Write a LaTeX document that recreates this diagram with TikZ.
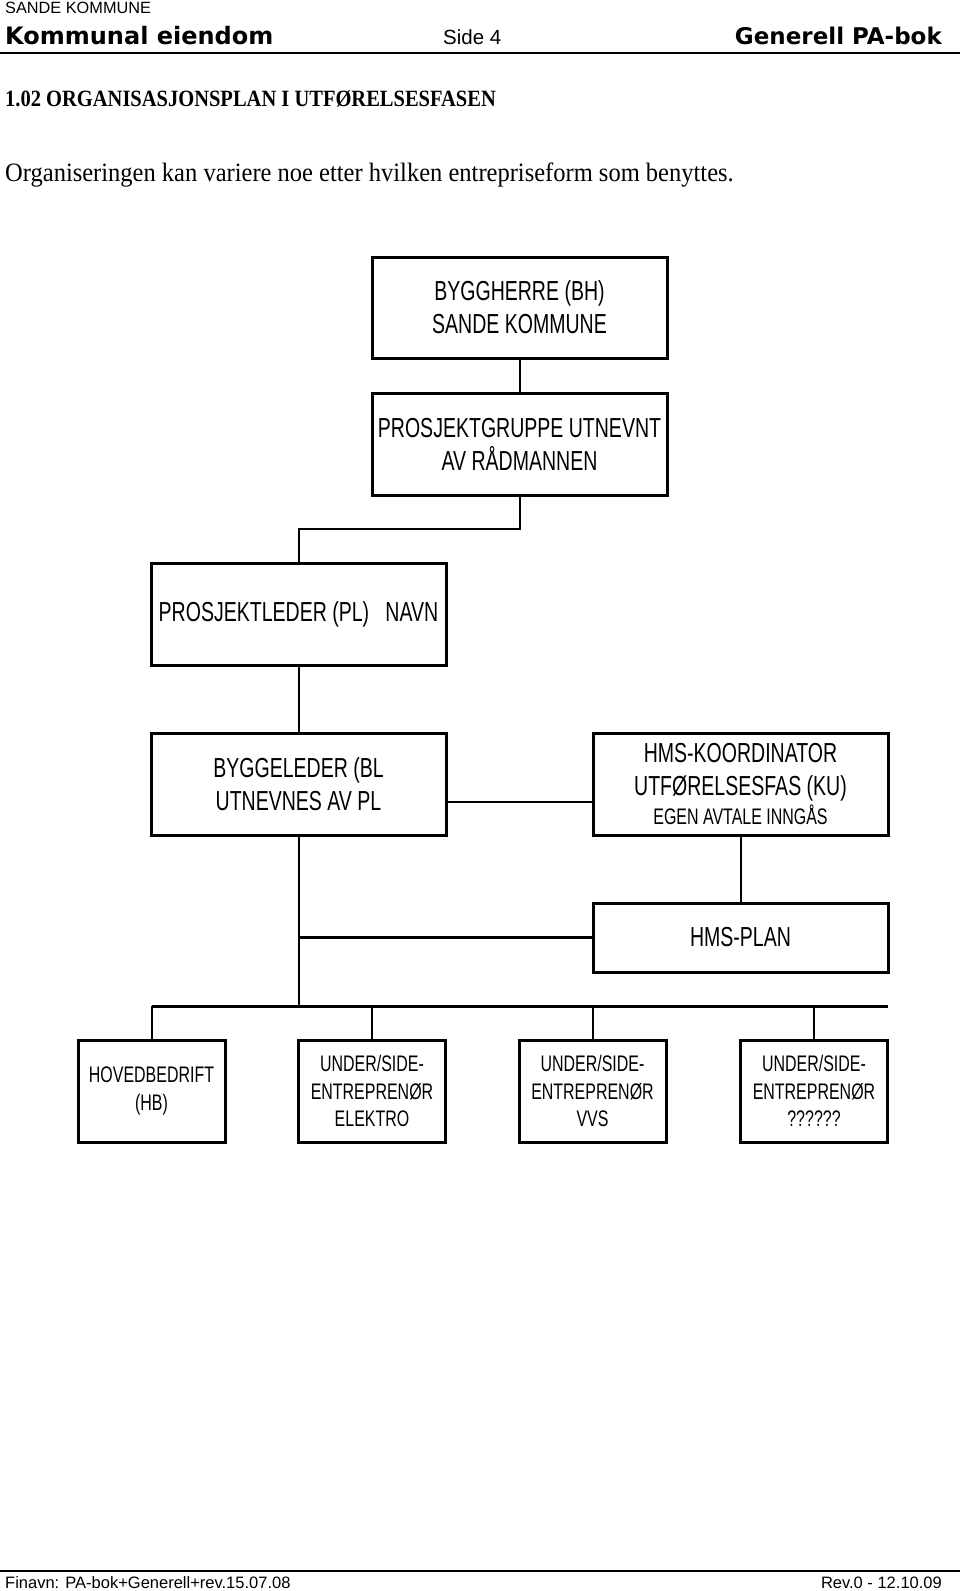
\documentclass[tikz,border=0pt]{standalone}
\usepackage{fontspec}
\setmainfont{Liberation Serif}
\newfontfamily\arialsf{Liberation Sans}
\newfontfamily\narrowsf[FakeStretch=0.71]{Liberation Sans}
\newfontfamily\heavysf{DejaVu Sans}
\newfontfamily\titlefont[FakeStretch=0.88]{Liberation Serif}
\begin{document}
\begin{tikzpicture}[x=1pt, y=-1pt,
    txt/.style={inner sep=0pt, anchor=base west},
    box/.style={draw, line width=3pt, inner sep=0pt, align=center,
      minimum width=295pt, minimum height=102pt,
      font=\narrowsf\fontsize{27.5}{33}\selectfont},
    smallbox/.style={box, minimum width=147pt,
      font=\narrowsf\fontsize{22.5}{27.8}\selectfont},
    link/.style={line width=2pt},
    bus/.style={line width=3pt}]
  \useasboundingbox (0,0) rectangle (960,1591);
  \node[txt] (firma) at (5,13.2) {\arialsf\fontsize{16.3}{18}\selectfont SANDE KOMMUNE};
  \node[txt] (head) at (5,44.6) {\heavysf\bfseries\fontsize{24}{26}\selectfont Kommunal eiendom};
  \node[txt] (side) at (443,44.6) {\arialsf\fontsize{20.5}{22}\selectfont Side 4};
  \node[txt, anchor=base east] (bok) at (942,44.6) {\heavysf\bfseries\fontsize{23}{26}\selectfont Generell PA-bok};
  \draw[line width=2pt] (0,53) -- (960,53);
  \node[txt] (tittel) at (5,106.5) {\titlefont\bfseries\fontsize{23.3}{26}\selectfont 1.02 ORGANISASJONSPLAN I UTFØRELSESFASEN};
  \node[txt] (intro) at (5,181.6) {\fontsize{26.5}{30}\selectfont\addfontfeature{FakeStretch=0.925}Organiseringen kan variere noe etter hvilken entrepriseform som benyttes.};

  \node[box, minimum height=101pt] (bh) at (519.5,307.5) {BYGGHERRE (BH)\\SANDE KOMMUNE};
  \node[box] (pg) at (519.5,444) {PROSJEKTGRUPPE UTNEVNT\\AV RÅDMANNEN};
  \node[box] (pl) at (298.5,614.5) {PROSJEKTLEDER (PL)\ \ \ NAVN};
  \node[box] (bl) at (298.5,784) {BYGGELEDER (BL\\UTNEVNES AV PL};
  \node[box] (hmsk) at (740.5,784) {HMS-KOORDINATOR\\UTFØRELSESFAS (KU)\\[-4pt]
    {\fontsize{22.5}{26}\selectfont EGEN AVTALE INNGÅS}};
  \node[box, minimum height=69pt] (plan) at (740.5,937.5) {HMS-PLAN};
  \node[smallbox] (hb) at (151.5,1091) {HOVEDBEDRIFT\\(HB)};
  \node[smallbox] (el) at (372,1091) {UNDER/SIDE-\\ENTREPRENØR\\ELEKTRO};
  \node[smallbox] (vvs) at (592.5,1091) {UNDER/SIDE-\\ENTREPRENØR\\VVS};
  \node[smallbox] (ukj) at (814,1091) {UNDER/SIDE-\\ENTREPRENØR\\??????};

  \coordinate (knekk) at (298.5,529);
  \coordinate (busv) at (151.5,1006);
  \coordinate (bush) at (888,1006);
  \draw[link] (bh) -- (pg);
  \draw[link] (pg.south) |- (knekk) -- (pl.north);
  \draw[link] (pl) -- (bl);
  \draw[link] ([yshift=-18pt]bl.east) -- ([yshift=-18pt]hmsk.west);
  \draw[link] (hmsk) -- (plan);
  \draw[link] (bl.south) -- (bl.south |- busv);
  \draw[bus] (bl.south |- plan.west) -- (plan.west);
  \draw[bus] (busv) -- (bush);
  \foreach \b in {hb,el,vvs,ukj}
    \draw[link] (\b.north |- busv) -- (\b.north);

  \draw[line width=2pt] (0,1571) -- (960,1571);
  \node[txt] (filnavn) at (5,1588) {\arialsf\fontsize{16.5}{18}\selectfont Finavn: PA-bok+Generell+rev.15.07.08};
  \node[txt, anchor=base east] (rev) at (942,1588) {\arialsf\fontsize{16.5}{18}\selectfont Rev.0 - 12.10.09};
\end{tikzpicture}
\end{document}
